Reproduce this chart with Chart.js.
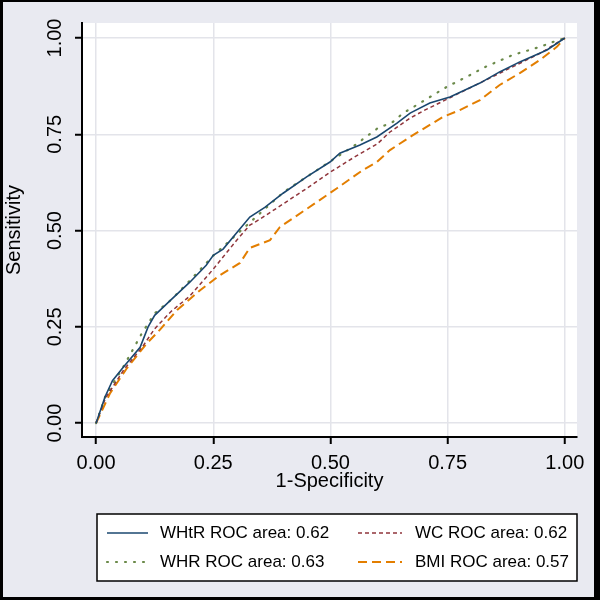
<!DOCTYPE html>
<html>
<head>
<meta charset="utf-8">
<script src="https://cdn.jsdelivr.net/npm/chart.js@4"></script>
<style>
  html, body { margin: 0; padding: 0; background: #e9eaf1; }
  canvas { display: block; }
</style>
</head>
<body>
<canvas id="roc" width="600" height="600"></canvas>
<script>
// ROC curves (1-specificity, sensitivity)
const whtrX = [0, 0.019, 0.035, 0.058, 0.094, 0.111, 0.125, 0.158, 0.200, 0.235, 0.25, 0.271, 0.328, 0.360, 0.399, 0.450, 0.499, 0.520, 0.563, 0.599, 0.642, 0.670, 0.712, 0.755, 0.819, 0.861, 0.904, 0.962, 1.0];
const whtrY = [0, 0.068, 0.110, 0.145, 0.197, 0.250, 0.280, 0.318, 0.366, 0.410, 0.436, 0.452, 0.535, 0.560, 0.597, 0.640, 0.678, 0.701, 0.722, 0.743, 0.779, 0.805, 0.831, 0.847, 0.883, 0.912, 0.938, 0.969, 1.0];

const wcX = [0, 0.02, 0.06, 0.10, 0.125, 0.16, 0.20, 0.25, 0.30, 0.328, 0.35, 0.40, 0.45, 0.50, 0.55, 0.60, 0.627, 0.65, 0.67, 0.70, 0.75, 0.80, 0.85, 0.90, 0.95, 1.0];
const wcY = [0, 0.065, 0.140, 0.200, 0.245, 0.290, 0.330, 0.400, 0.475, 0.514, 0.530, 0.570, 0.610, 0.652, 0.690, 0.725, 0.756, 0.775, 0.792, 0.812, 0.842, 0.872, 0.902, 0.932, 0.962, 1.0];

const whrX = [0, 0.02, 0.06, 0.098, 0.125, 0.16, 0.20, 0.25, 0.30, 0.35, 0.40, 0.45, 0.50, 0.55, 0.60, 0.633, 0.655, 0.684, 0.748, 0.80, 0.825, 0.889, 0.95, 0.968, 1.0];
const whrY = [0, 0.070, 0.150, 0.234, 0.285, 0.320, 0.370, 0.435, 0.490, 0.545, 0.600, 0.640, 0.680, 0.720, 0.765, 0.782, 0.805, 0.826, 0.873, 0.905, 0.922, 0.956, 0.978, 0.987, 1.0];

const bmiX = [0, 0.030, 0.066, 0.109, 0.136, 0.173, 0.222, 0.264, 0.307, 0.328, 0.371, 0.392, 0.420, 0.471, 0.514, 0.569, 0.599, 0.627, 0.676, 0.740, 0.776, 0.819, 0.861, 0.904, 0.947, 0.983, 1.0];
const bmiY = [0, 0.078, 0.143, 0.208, 0.242, 0.294, 0.345, 0.384, 0.416, 0.455, 0.475, 0.509, 0.532, 0.574, 0.610, 0.657, 0.678, 0.709, 0.748, 0.795, 0.813, 0.839, 0.878, 0.909, 0.943, 0.977, 1.0];

const tickValues = [0, 0.25, 0.5, 0.75, 1];
const legendLabels = ["WHtR ROC area: 0.62", "WC ROC area: 0.62", "WHR ROC area: 0.63", "BMI ROC area: 0.57"];

const FONT = "'Liberation Sans', Arial, sans-serif";

function toPoints(xs, ys) {
  return xs.map((x, i) => ({ x: x, y: ys[i] }));
}

function line(label, xs, ys, color, dash, width, cap) {
  return {
    label: label,
    data: toPoints(xs, ys),
    showLine: true,
    borderColor: color,
    backgroundColor: color,
    borderWidth: width,
    borderDash: dash,
    borderCapStyle: cap || "butt",
    pointRadius: 0,
    tension: 0,
  };
}

// outer background, white plot region, frame and the boxed legend
const stataLook = {
  id: "stataLook",
  beforeDraw(chart) {
    const { ctx, chartArea: a } = chart;
    ctx.save();
    ctx.fillStyle = "#e9eaf1";
    ctx.fillRect(0, 0, chart.width, chart.height);
    ctx.fillStyle = "#ffffff";
    ctx.fillRect(a.left, a.top, a.right - a.left, a.bottom - a.top);
    ctx.restore();
  },
  afterDraw(chart) {
    const ctx = chart.ctx;
    const ds = chart.data.datasets;
    ctx.save();

    // legend box
    ctx.fillStyle = "#ffffff";
    ctx.fillRect(97, 514, 480, 67);
    ctx.strokeStyle = "#000";
    ctx.lineWidth = 1.5;
    ctx.strokeRect(97, 514, 480, 67);

    const slots = [
      { x1: 107, x2: 148, tx: 160, y: 533 },
      { x1: 358, x2: 402, tx: 415, y: 533 },
      { x1: 107, x2: 148, tx: 160, y: 562 },
      { x1: 358, x2: 402, tx: 415, y: 562 },
    ];
    ctx.font = "17px " + FONT;
    ctx.textBaseline = "middle";
    ctx.textAlign = "left";
    slots.forEach((s, i) => {
      const d = ds[i];
      ctx.beginPath();
      ctx.setLineDash(d.borderDash);
      ctx.lineCap = d.borderCapStyle;
      ctx.strokeStyle = d.borderColor;
      ctx.lineWidth = d.borderWidth;
      ctx.moveTo(s.x1, s.y);
      ctx.lineTo(s.x2, s.y);
      ctx.stroke();
      ctx.setLineDash([]);
      ctx.fillStyle = "#000";
      ctx.fillText(legendLabels[i], s.tx, s.y);
    });

    // black frame round the picture
    ctx.fillStyle = "#000";
    ctx.fillRect(0, 0, 600, 2);
    ctx.fillRect(0, 0, 3, 600);
    ctx.fillRect(594, 0, 6, 600);
    ctx.fillRect(0, 597, 600, 3);
    ctx.restore();
  },
};

function axis(titleText, titlePadding, extra) {
  return Object.assign(
    {
      type: "linear",
      afterBuildTicks: (s) => {
        s.ticks = tickValues.map((v) => ({ value: v }));
      },
      border: { display: true, color: "#000", width: 2 },
      grid: {
        color: "#e3e4ea",
        lineWidth: 1.5,
        drawTicks: true,
        tickLength: 7,
        tickColor: "#000",
        tickWidth: 2,
      },
      title: {
        display: true,
        text: titleText,
        color: "#000",
        font: { family: FONT, size: 20 },
        padding: titlePadding,
      },
    },
    extra
  );
}

const config = {
  type: "scatter",
  data: {
    datasets: [
      line("WHtR", whtrX, whtrY, "#1a476f", [], 1.6),
      line("WC", wcX, wcY, "#90353b", [4, 3], 1.5),
      line("WHR", whrX, whrY, "#6b8a4a", [1, 8], 2.2, "round"),
      line("BMI", bmiX, bmiY, "#e37e00", [9, 5], 2),
    ],
  },
  options: {
    responsive: false,
    animation: false,
    layout: { padding: { top: 23, right: 23, left: 0, bottom: 103 } },
    plugins: {
      legend: { display: false },
      tooltip: { enabled: false },
    },
    scales: {
      x: axis("1-Specificity", { top: 0, bottom: 4 }, {
        min: -0.03,
        max: 1.026,
        afterFit: (s) => { s.height = 60; },
        ticks: {
          color: "#000",
          font: { family: FONT, size: 20 },
          padding: 7,
          maxRotation: 0,
          callback: (v) => Number(v).toFixed(2),
        },
      }),
      y: axis("Sensitivity", { top: 2, bottom: 0 }, {
        min: -0.036,
        max: 1.039,
        afterFit: (s) => { s.width = 82; },
        ticks: {
          color: "#000",
          font: { family: FONT, size: 20 },
          padding: 0,
          minRotation: 90,
          maxRotation: 90,
          crossAlign: "center",
          callback: (v) => Number(v).toFixed(2),
        },
      }),
    },
  },
  plugins: [stataLook],
};

new Chart(document.querySelector("#roc"), config);
</script>
</body>
</html>
